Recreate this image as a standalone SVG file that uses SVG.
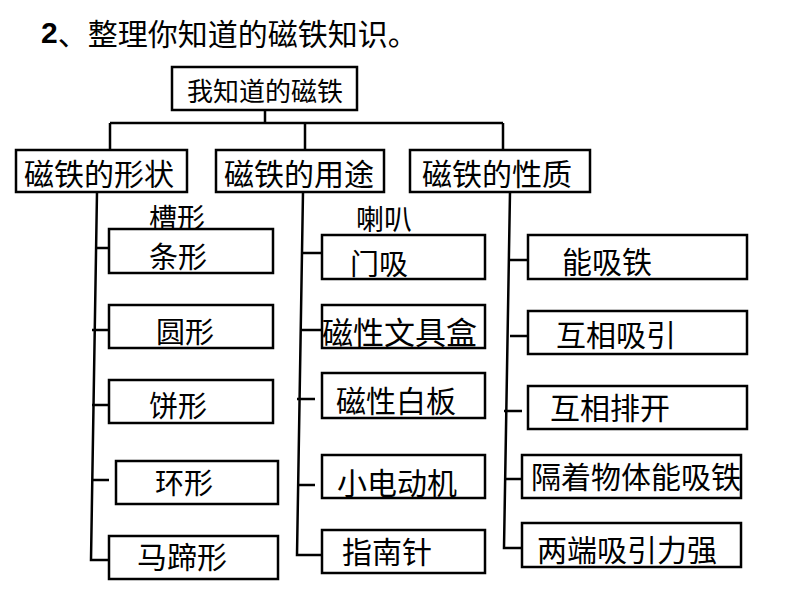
<svg xmlns="http://www.w3.org/2000/svg" width="794" height="596" viewBox="0 0 794 596">
<style>
.box{fill:#fff;stroke:#000;stroke-width:2.5}
.t{font-family:"Noto Sans CJK SC","Liberation Sans",sans-serif;font-size:30px;fill:#000;dominant-baseline:central}
.ln{stroke:#000;stroke-width:2.5;fill:none}
</style>
<rect width="794" height="596" fill="#fff"/>
<text x="41" y="32" class="t" style="font-size:30px"><tspan font-family="Liberation Sans" font-weight="bold">2</tspan>、整理你知道的磁铁知识。</text>
<g id="connectors">
<path class="ln" d="M265 110V123M110 123H503M110 123V150M305 123V150M503 123V150"/>
<path class="ln" d="M97 192L91 560H109M96 248H115M92 330H109M92 405H109M93 480H109"/>
<path class="ln" d="M303 192L297 555H322M302 253H322M301 330H322M297 399H315M298 485H315"/>
<path class="ln" d="M510 192L504 548H522M510 260H528M510 336H528M504 411H522M504 479H522"/>
</g>
<g id="root"><rect class="box" x="172" y="67" width="185" height="43"/><text class="t" x="187" y="89" style="font-size:26px">我知道的磁铁</text></g>
<g id="shape"><rect class="box" x="16" y="150" width="171" height="42"/><text class="t" x="24" y="172">磁铁的形状</text></g>
<g id="use"><rect class="box" x="216" y="150" width="168" height="42"/><text class="t" x="224" y="172">磁铁的用途</text></g>
<g id="prop"><rect class="box" x="410" y="150" width="180" height="42"/><text class="t" x="422" y="172">磁铁的性质</text></g>
<g id="caoxing"><text class="t" x="149" y="217" style="font-size:28px">槽形</text></g>
<g id="tiaoxing"><rect class="box" x="109" y="229" width="164" height="44"/><text class="t" x="149" y="255" style="font-size:29px">条形</text></g>
<g id="yuanxing"><rect class="box" x="109" y="305" width="164" height="43"/><text class="t" x="156" y="330" style="font-size:29px">圆形</text></g>
<g id="bingxing"><rect class="box" x="109" y="380" width="164" height="43"/><text class="t" x="149" y="404" style="font-size:29px">饼形</text></g>
<g id="huanxing"><rect class="box" x="116" y="461" width="162" height="43"/><text class="t" x="155" y="481" style="font-size:29px">环形</text></g>
<g id="matixing"><rect class="box" x="109" y="536" width="169" height="43"/><text class="t" x="137" y="555">马蹄形</text></g>
<g id="laba"><text class="t" x="356" y="218" style="font-size:28px">喇叭</text></g>
<g id="menxi"><rect class="box" x="322" y="235" width="163" height="44"/><text class="t" x="350" y="262" style="font-size:29px">门吸</text></g>
<g id="wenjuhe"><rect class="box" x="322" y="305" width="163" height="43"/><text class="t" x="322" y="330" style="font-size:31px">磁性文具盒</text></g>
<g id="baiban"><rect class="box" x="322" y="373" width="163" height="45"/><text class="t" x="336" y="399">磁性白板</text></g>
<g id="diandongji"><rect class="box" x="322" y="455" width="163" height="43"/><text class="t" x="337" y="481">小电动机</text></g>
<g id="zhinanzhen"><rect class="box" x="322" y="530" width="163" height="43"/><text class="t" x="342" y="550">指南针</text></g>
<g id="nengxitie"><rect class="box" x="528" y="235" width="219" height="44"/><text class="t" x="562" y="260">能吸铁</text></g>
<g id="huxiangxiyin"><rect class="box" x="528" y="311" width="219" height="43"/><text class="t" x="556" y="333">互相吸引</text></g>
<g id="huxiangpaikai"><rect class="box" x="528" y="386" width="219" height="43"/><text class="t" x="550" y="406">互相排开</text></g>
<g id="gezhe"><rect class="box" x="522" y="455" width="219" height="43"/><text class="t" x="531" y="475">隔着物体能吸铁</text></g>
<g id="liangduan"><rect class="box" x="522" y="523" width="219" height="44"/><text class="t" x="537" y="548">两端吸引力强</text></g>
</svg>
